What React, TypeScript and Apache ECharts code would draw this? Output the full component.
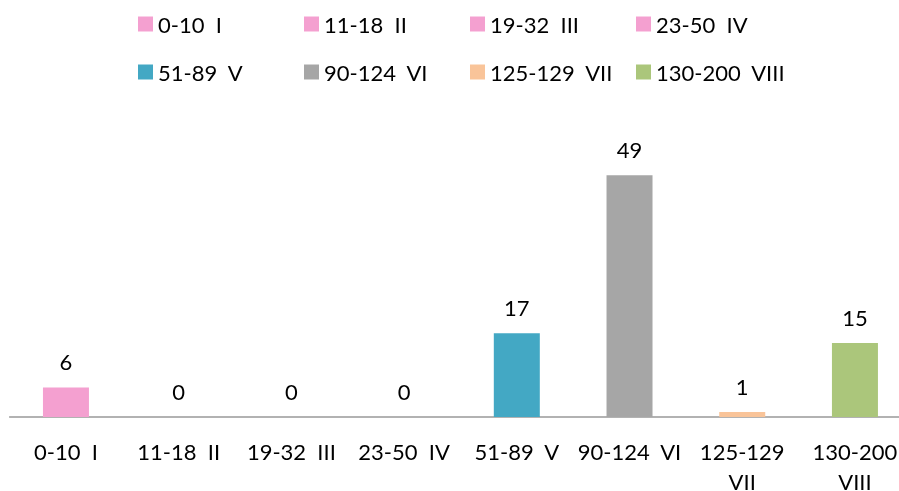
import React, { useEffect, useRef } from "react";
import * as echarts from "echarts";

const categories = [
  "0-10  I",
  "11-18  II",
  "19-32  III",
  "23-50  IV",
  "51-89  V",
  "90-124  VI",
  "125-129  VII",
  "130-200  VIII",
];
const values = [6, 0, 0, 0, 17, 49, 1, 15];
const colors = [
  "#F4A0D0",
  "#F4A0D0",
  "#F4A0D0",
  "#F4A0D0",
  "#43A8C4",
  "#A6A6A6",
  "#F9C499",
  "#ABC67B",
];
const wrapLabels = ["125-129\nVII", "130-200\nVIII"];

const FONT = "Lato";

export default function App() {
  const ref = useRef<HTMLDivElement>(null);
  useEffect(() => {
    if (!ref.current) return;
    document.documentElement.style.overflow = "hidden";
    document.body.style.overflow = "hidden";
    document.body.style.margin = "0";
    const chart = echarts.init(ref.current, undefined, { renderer: "svg" });
    const series = categories.map((name, i) => ({
      name,
      type: "bar",
      stack: "all",
      barWidth: 46,
      data: categories.map((_, j) => (j === i ? values[i] : "-")),
      itemStyle: { color: colors[i] },
      label: {
        show: true,
        position: "top",
        distance: 15,
        color: "#000",
        fontFamily: FONT,
        fontSize: 22,
      },
    }));
    const legendBase = {
      orient: "horizontal",
      left: 138,
      padding: 0,
      itemGap: 0,
      itemWidth: 15,
      itemHeight: 15,
      icon: "rect",
      textStyle: {
        fontFamily: FONT,
        fontSize: 22,
        color: "#000",
        width: 146,
        lineHeight: 24,
      },
    };
    chart.setOption({
      animation: false,
      legend: [
        { ...legendBase, top: 12, data: categories.slice(0, 4) },
        { ...legendBase, top: 60, data: categories.slice(4) },
      ],
      grid: {
        left: 9.6,
        width: 901.7,
        top: 121,
        height: 296,
        containLabel: false,
        outerBoundsMode: "none",
      },
      xAxis: {
        type: "category",
        data: categories,
        axisLine: { show: true, lineStyle: { color: "#999", width: 1.5 } },
        axisTick: { show: false },
        axisLabel: {
          interval: 0,
          margin: 19,
          color: "#000",
          fontFamily: FONT,
          fontSize: 22,
          lineHeight: 30,
          formatter: (v: string, idx: number) =>
            idx >= 6 ? wrapLabels[idx - 6] : v,
        },
      },
      yAxis: {
        type: "value",
        min: 0,
        max: 60,
        show: false,
        splitLine: { show: false },
      },
      series,
    });
    return () => chart.dispose();
  }, []);
  return (
    <div
      ref={ref}
      style={{
        position: "fixed",
        left: 0,
        top: 0,
        width: 899,
        height: 491,
        overflow: "hidden",
      }}
    />
  );
}
